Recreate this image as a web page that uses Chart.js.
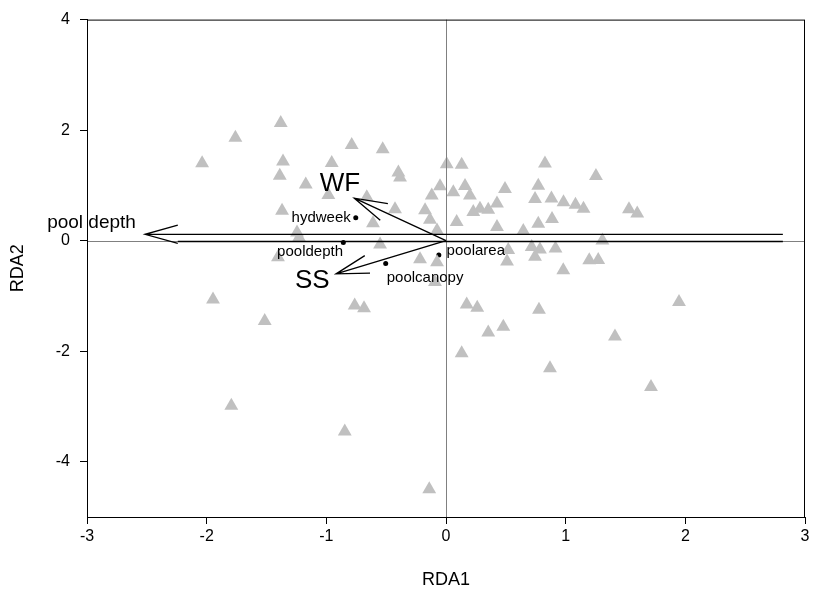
<!DOCTYPE html>
<html>
<head>
<meta charset="utf-8">
<script src="https://cdn.jsdelivr.net/npm/chart.js@4/dist/chart.umd.min.js"></script>
<style>
  html, body { margin: 0; padding: 0; background: #fff; }
  #wrap { width: 813px; height: 601px; }
</style>
</head>
<body>
<div id="wrap"><canvas id="rdaChart"></canvas></div>
<script>
// site scores (RDA1, RDA2)
const siteX = [-2.038, -1.760, -1.381, -1.362, -1.389, -1.172, -0.955, -0.788, -0.529, -0.398,
  -0.384, -0.983, -0.662, -1.370, -0.426, -0.610, -1.245, -1.228, -0.551, -1.404,
  -1.947, -1.515, -0.763, -0.685, -1.794, -0.846, -0.140, 0.006, 0.131, -0.050,
  0.159, -0.119, 0.061, 0.200, -0.175, -0.134, 0.089, -0.075, -0.217, -0.075,
  -0.092, 0.228, 0.284, 0.353, 0.426, 0.426, 0.493, 0.827, 0.771, 0.744,
  0.881, 0.982, 1.082, 1.149, 1.253, 1.529, 1.598, 0.771, 0.886, 0.646,
  1.307, 0.520, 0.716, 0.785, 0.915, 0.744, 0.510, 0.980, 1.197, 1.272,
  0.173, 0.261, 0.777, 0.479, 0.353, 0.131, 0.869, 1.412, 1.713, 1.947];
const siteY = [1.401, 1.862, 2.131, 1.432, 1.174, 1.016, 1.405, 1.729, 1.652, 1.235,
  1.142, 0.828, 0.787, 0.541, 0.568, 0.317, 0.147, 0.057, -0.068, -0.301,
  -1.066, -1.453, -1.174, -1.224, -2.989, -3.455, -4.500, 1.384, 1.375, 0.984,
  0.989, 0.815, 0.876, 0.815, 0.550, 0.380, 0.339, 0.183, -0.337, -0.391,
  -0.749, 0.518, 0.577, 0.559, 0.672, 0.249, 0.935, 1.396, 0.995, 0.756,
  0.765, 0.697, 0.652, 0.577, 1.168, 0.568, 0.493, 0.308, 0.392, 0.177,
  0.004, -0.170, -0.116, -0.158, -0.140, -0.289, -0.378, -0.534, -0.355, -0.349,
  -1.156, -1.215, -1.251, -1.556, -1.663, -2.039, -2.308, -1.735, -2.649, -1.111];

// environmental variables (points)
const varNames = ["hydweek", "pooldepth", "poolcanopy", "poolarea"];
const varX = [-0.754, -0.858, -0.504, -0.060];
const varY = [0.416, -0.032, -0.414, -0.260];
const varLabelX = [-0.796, -1.136, -0.175, 0.005];
const varLabelY = [0.416, -0.206, -0.672, -0.193];
const varLabelAlign = ["right", "center", "center", "left"];

// biplot arrows
const arrowNames = ["WF", "SS", "pool depth"];
const arrowFromX = [0, 0, 2.815];
const arrowFromY = [0, 0, 0.115];
const arrowToX = [-0.766, -0.919, -2.515];
const arrowToY = [0.769, -0.600, 0.115];
const arrowLabelX = [-0.886, -1.117, -3.333];
const arrowLabelY = [1.030, -0.731, 0.326];

const xTicks = [-3, -2, -1, 0, 1, 2, 3];
const yTicks = [-4, -2, 0, 2, 4];

const sitePoints = siteX.map((x, i) => ({ x: x, y: siteY[i] }));
const varPoints = varX.map((x, i) => ({ x: x, y: varY[i] }));

const FONT = "Arial, 'Liberation Sans', sans-serif";

const biplotLayer = {
  id: "biplotLayer",
  afterDatasetsDraw(chart) {
    const c = chart.ctx;
    const xs = chart.scales.x, ys = chart.scales.y;
    const a = chart.chartArea;
    const px = v => xs.getPixelForValue(v);
    const py = v => ys.getPixelForValue(v);
    c.save();

    // zero lines
    c.strokeStyle = "#808080";
    c.lineWidth = 1;
    c.beginPath();
    c.moveTo(a.left, Math.round(py(0)) + 0.5);
    c.lineTo(a.right, Math.round(py(0)) + 0.5);
    c.moveTo(Math.round(px(0)) + 0.5, a.top);
    c.lineTo(Math.round(px(0)) + 0.5, a.bottom);
    c.stroke();

    // frame
    c.strokeStyle = "#000";
    c.strokeRect(a.left + 0.5, a.top + 0.5, a.right - a.left - 1, a.bottom - a.top);

    // arrows
    c.lineWidth = 1.3;
    const barb = 34, ang = 15.5 * Math.PI / 180;
    for (let i = 0; i < arrowNames.length; i++) {
      const x0 = px(arrowFromX[i]), y0 = py(arrowFromY[i]);
      const x1 = px(arrowToX[i]), y1 = py(arrowToY[i]);
      const t = Math.atan2(y0 - y1, x0 - x1);
      c.beginPath();
      c.moveTo(x0, y0);
      c.lineTo(x1, y1);
      c.moveTo(x1 + barb * Math.cos(t - ang), y1 + barb * Math.sin(t - ang));
      c.lineTo(x1, y1);
      c.lineTo(x1 + barb * Math.cos(t + ang), y1 + barb * Math.sin(t + ang));
      c.stroke();
      // lower edge of the long arrow runs along the zero line
      if (i === 2) {
        const yz = Math.round(py(0)) + 0.5;
        c.beginPath();
        c.moveTo(x1 + barb * Math.cos(t + ang), yz);
        c.lineTo(x0, yz);
        c.stroke();
      }
    }

    // arrow labels
    c.fillStyle = "#000";
    c.textBaseline = "middle";
    c.textAlign = "center";
    c.font = "26px " + FONT;
    c.fillText(arrowNames[0], px(arrowLabelX[0]), py(arrowLabelY[0]));
    c.fillText(arrowNames[1], px(arrowLabelX[1]), py(arrowLabelY[1]));
    c.font = "19px " + FONT;
    c.textAlign = "left";
    c.fillText(arrowNames[2], px(arrowLabelX[2]), py(arrowLabelY[2]));

    // variable labels
    c.font = "15px " + FONT;
    for (let i = 0; i < varNames.length; i++) {
      c.textAlign = varLabelAlign[i];
      c.fillText(varNames[i], px(varLabelX[i]), py(varLabelY[i]));
    }
    c.restore();
  }
};

new Chart(document.getElementById("rdaChart"), {
  type: "scatter",
  data: {
    datasets: [
      {
        label: "sites",
        data: sitePoints,
        pointStyle: "triangle",
        pointRadius: 8,
        backgroundColor: "#c0c0c0",
        borderColor: "#c0c0c0",
        borderWidth: 0,
      },
      {
        label: "variables",
        data: varPoints,
        pointStyle: "circle",
        pointRadius: 2.5,
        backgroundColor: "#000",
        borderColor: "#000",
        borderWidth: 0,
      },
    ],
  },
  options: {
    responsive: true,
    maintainAspectRatio: false,
    animation: false,
    layout: { padding: { top: 15, right: 8, left: 0, bottom: 0 } },
    scales: {
      x: {
        type: "linear",
        min: -3,
        max: 3,
        afterBuildTicks: (s) => { s.ticks = xTicks.map(v => ({ value: v })); },
        afterFit: (s) => { s.height = 84; },
        grid: { drawOnChartArea: false, drawTicks: true, tickLength: 7, tickColor: "#000" },
        border: { display: true, color: "#000" },
        ticks: { color: "#000", padding: 3, font: { family: FONT, size: 16 } },
        title: { display: true, text: "RDA1", color: "#000", font: { family: FONT, size: 18 }, padding: { top: 0, bottom: 10 } },
      },
      y: {
        type: "linear",
        min: -5,
        max: 4,
        afterBuildTicks: (s) => { s.ticks = yTicks.map(v => ({ value: v })); },
        afterFit: (s) => { s.width = 87; },
        grid: { drawOnChartArea: false, drawTicks: true, tickLength: 7, tickColor: "#000" },
        border: { display: true, color: "#000" },
        ticks: { color: "#000", padding: 10, font: { family: FONT, size: 16 } },
        title: { display: true, text: "RDA2", color: "#000", font: { family: FONT, size: 18 }, padding: { top: 7, bottom: 0 } },
      },
    },
    plugins: {
      legend: { display: false },
      tooltip: { enabled: false },
    },
  },
  plugins: [biplotLayer],
});
</script>
</body>
</html>
